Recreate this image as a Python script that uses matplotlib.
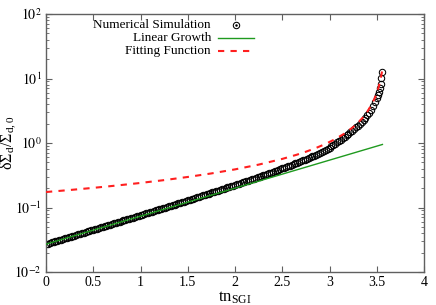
import numpy as np
import matplotlib
matplotlib.use('Agg')
import matplotlib.pyplot as plt
from matplotlib.lines import Line2D
from matplotlib.ticker import LogLocator, FixedLocator, NullFormatter

plt.rcParams['font.family'] = ['Liberation Serif', 'DejaVu Serif']
plt.rcParams['mathtext.fontset'] = 'stix'
plt.rcParams['font.size'] = 9.5

# Numerical simulation: output every 0.02 in t*n_SGI up to 3.50, denser at the end
t_sim = list(np.round(np.arange(0, 176) * 0.02, 2)) + [3.51, 3.52, 3.53, 3.54, 3.55, 3.56]
sim = [0.02700, 0.02756, 0.02813, 0.02871, 0.02931,
       0.02992, 0.03054, 0.03117, 0.03182, 0.03248,
       0.03316, 0.03385, 0.03455, 0.03527, 0.03600,
       0.03675, 0.03751, 0.03830, 0.03909, 0.03991,
       0.04074, 0.04159, 0.04246, 0.04335, 0.04425,
       0.04517, 0.04612, 0.04708, 0.04807, 0.04908,
       0.05010, 0.05115, 0.05222, 0.05332, 0.05444,
       0.05558, 0.05675, 0.05794, 0.05916, 0.06040,
       0.06167, 0.06297, 0.06430, 0.06566, 0.06704,
       0.06845, 0.06990, 0.07138, 0.07289, 0.07443,
       0.07601, 0.07762, 0.07927, 0.08095, 0.08267,
       0.08443, 0.08623, 0.08807, 0.08994, 0.09186,
       0.09382, 0.09583, 0.09788, 0.09998, 0.1021,
       0.1043, 0.1065, 0.1088, 0.1112, 0.1136,
       0.1160, 0.1185, 0.1211, 0.1237, 0.1264,
       0.1291, 0.1319, 0.1348, 0.1378, 0.1408,
       0.1438, 0.1470, 0.1502, 0.1535, 0.1569,
       0.1603, 0.1639, 0.1675, 0.1712, 0.1750,
       0.1789, 0.1829, 0.1870, 0.1911, 0.1954,
       0.1998, 0.2043, 0.2089, 0.2137, 0.2185,
       0.2234, 0.2285, 0.2338, 0.2391, 0.2446,
       0.2502, 0.2561, 0.2620, 0.2681, 0.2744,
       0.2808, 0.2875, 0.2943, 0.3013, 0.3084,
       0.3157, 0.3234, 0.3313, 0.3393, 0.3476,
       0.3560, 0.3649, 0.3741, 0.3834, 0.3930,
       0.4028, 0.4132, 0.4239, 0.4349, 0.4461,
       0.4577, 0.4701, 0.4828, 0.4958, 0.5092,
       0.5229, 0.5379, 0.5533, 0.5691, 0.5853,
       0.6019, 0.6204, 0.6395, 0.6590, 0.6791,
       0.6997, 0.7277, 0.7568, 0.7868, 0.8179,
       0.850, 0.889, 0.930, 0.975, 1.022,
       1.073, 1.126, 1.183, 1.245, 1.312,
       1.385, 1.461, 1.545, 1.638, 1.743,
       1.859, 1.980, 2.119, 2.280, 2.472,
       2.701, 2.960, 3.283, 3.705, 4.248,
       5.022, 5.580, 6.252, 7.150, 8.353, 10.10, 12.75]

# Linear growth
t_lin = [0.0, 1.0, 2.0, 3.0, 3.56]
lin = [0.027, 0.0734, 0.1995, 0.5423, 0.949]

# Fitting function
t_fit = [0.0, 0.25, 0.5, 0.75, 1.0, 1.25, 1.5, 1.75, 2.0, 2.25, 2.5, 2.65,
         2.75, 2.85, 2.95, 3.05, 3.15, 3.25, 3.3, 3.35, 3.4, 3.45, 3.48,
         3.5, 3.52, 3.54, 3.56]
fit = [0.1737, 0.1866, 0.2016, 0.2193, 0.2403, 0.2658, 0.2974, 0.3375,
       0.3900, 0.4620, 0.5665, 0.6555, 0.7322, 0.8291, 0.9557, 1.128,
       1.376, 1.763, 2.052, 2.455, 3.054, 4.039, 5.008, 5.962, 7.365,
       9.631, 13.91]

labels = ['Numerical Simulation', 'Linear Growth', 'Fitting Function']
green = '#1f9a1f'
red = '#ff1f1f'

fig = plt.figure(figsize=(4.36, 3.05), dpi=100)
ax = fig.add_axes([46/436, 1-272/305, 378/436, 258/305])

ax.plot(t_sim, sim, linestyle='none', marker='o', ms=4.6, mfc='none',
        mec='black', mew=0.75, zorder=2)
ax.plot(t_lin, lin, color=green, lw=1.0, zorder=3)
ax.plot(t_fit, fit, color=red, lw=1.5, dashes=(3, 3), zorder=4)

ax.set_yscale('log')
ax.set_xlim(0, 4)
ax.set_ylim(1e-2, 1e2)
ax.xaxis.set_major_locator(FixedLocator([0, 0.5, 1, 1.5, 2, 2.5, 3, 3.5, 4]))
ax.set_xticklabels(['0', '0.5', '1', '1.5', '2', '2.5', '3', '3.5', '4'])
ax.yaxis.set_major_locator(FixedLocator([1e-2, 1e-1, 1e0, 1e1, 1e2]))
ax.set_yticklabels([r'$10^{-2}$', r'$10^{-1}$', r'$10^{0}$', r'$10^{1}$', r'$10^{2}$'])
ax.yaxis.set_minor_locator(LogLocator(base=10, subs=np.arange(2, 10), numticks=20))
ax.yaxis.set_minor_formatter(NullFormatter())

ax.tick_params(which='both', direction='in', top=True, right=True,
               color='#606060', labelsize=10)
ax.tick_params(which='major', length=4.5, width=0.8, pad=3)
ax.tick_params(which='minor', length=2.5, width=0.6)
for s in ax.spines.values():
    s.set_color('#606060')
    s.set_linewidth(1.0)

ax.set_xlabel(r'tn$_{\mathregular{SGI}}$', fontsize=12, labelpad=0)
ax.set_ylabel(r'δΣ$_{\mathregular{d}}$/Σ$_{\mathregular{d,0}}$', fontsize=11.5)
ax.yaxis.set_label_coords(-0.074, 0.5)

# gnuplot-style key: right-aligned text, sample to the right
rows = [0.957, 0.907, 0.857]
xt = 0.4365
xs0, xs1 = 0.455, 0.550
for lab, yy in zip(labels, rows):
    ax.text(xt, yy, lab, transform=ax.transAxes, ha='right', va='center',
            fontsize=9.5)
ax.add_line(Line2D([0.5026], [rows[0]], transform=ax.transAxes, marker='o',
                   ms=4.6, mfc='none', mec='black', mew=0.75, linestyle='none'))
ax.add_line(Line2D([0.5026], [rows[0]], transform=ax.transAxes, marker='o',
                   ms=0.8, mfc='black', mec='black', linestyle='none'))
ax.add_line(Line2D([xs0, xs1], [rows[1], rows[1]], transform=ax.transAxes,
                   color=green, lw=1.0))
ax.add_line(Line2D([xs0, xs1], [rows[2], rows[2]], transform=ax.transAxes,
                   color=red, lw=1.5, dashes=(3, 3)))

fig.savefig('out.png', dpi=100)
